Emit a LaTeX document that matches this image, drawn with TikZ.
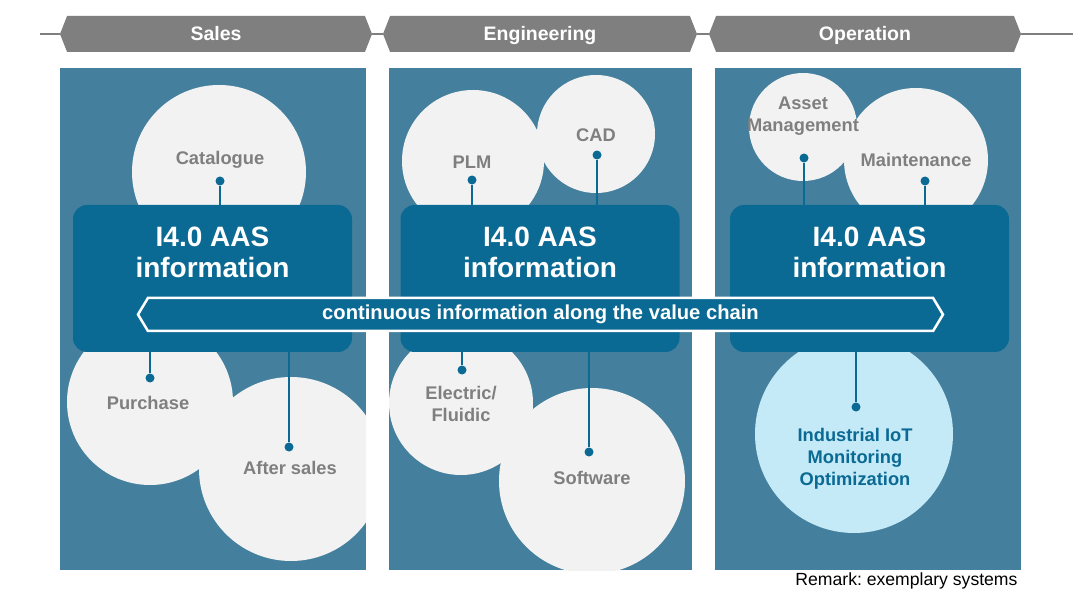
\documentclass[tikz,border=0pt]{standalone}
\usepackage{fontspec}
\setmainfont{Liberation Sans}
\frenchspacing
\usetikzlibrary{arrows.meta,positioning,calc,shapes.symbols}
\definecolor{aasdark}{HTML}{0B6A94}
\definecolor{aaspanel}{HTML}{44809E}
\definecolor{aasgray}{HTML}{7F7F7F}
\definecolor{aaslight}{HTML}{F2F2F2}
\definecolor{aasiot}{HTML}{C4EAF8}
\tikzset{
  phase/.style={signal, signal to=west and east, signal pointer angle=137,
    fill=aasgray, text=white, font=\bfseries\fontsize{19.5}{22}\selectfont,
    minimum height=36pt, inner sep=0pt, text height=18pt, text depth=4pt},
  sys/.style={circle, fill=aaslight, inner sep=0pt},
  syslabel/.style={text=aasgray, font=\bfseries\fontsize{18.3}{22}\selectfont, align=center},
  aasbox/.style={fill=aasdark, rounded corners=14pt, minimum width=279pt,
    minimum height=147pt, inner sep=0pt},
  aastext/.style={text=white, font=\bfseries\fontsize{28}{31}\selectfont, align=center},
  chain/.style={signal, signal to=west and east, signal pointer angle=118,
    fill=aasdark, draw=white, line width=2.5pt, text=white,
    font=\bfseries\fontsize{20.2}{22}\selectfont, minimum width=805pt,
    minimum height=33pt, inner sep=0pt},
  link/.style={aasdark, line width=2pt},
  sysdot/.style={circle, fill=aasdark, inner sep=0pt, minimum size=9pt},
}

\begin{document}
\begin{tikzpicture}[x=1pt, y=-1pt]
  \fill[white] (0,0) rectangle (1080,604);
  \useasboundingbox (0,0) rectangle (1080,604);

  \coordinate (lineL) at (40,34);
  \coordinate (lineR) at (1073,34);
  \foreach \n/\x/\w/\t in {sales/216/312/Sales, eng/540/314/Engineering, op/865/312/Operation}
    \node[phase, minimum width=\w] (\n) at (\x,34) {\t};
  \draw[aasgray, line width=1.5pt] (lineL) -- (sales.west) (sales.east) -- (eng.west)
    (eng.east) -- (op.west) (op.east) -- (lineR);

  \foreach \x/\X in {60/366, 389/692, 715/1021}
    \fill[aaspanel] (\x,68) rectangle (\X,570);

  \begin{scope}
    \clip (60,68) rectangle (366,570);
    \foreach \n/\cx/\cy/\r in {cat/219/172/87, pur/150/402/83, aft/291/469/92}
      \node[sys, minimum size=2*\r] (\n) at (\cx,\cy) {};
  \end{scope}
  \begin{scope}
    \clip (389,68) rectangle (692,570);
    \foreach \n/\cx/\cy/\r in {plm/473/161/71, cad/596/134/59, ele/461/403/72, sw/592/481/93}
      \node[sys, minimum size=2*\r] (\n) at (\cx,\cy) {};
  \end{scope}
  \begin{scope}
    \clip (715,68) rectangle (1021,570);
    \foreach \n/\cx/\cy/\r in {ast/803/127/54, mnt/916/160/72}
      \node[sys, minimum size=2*\r] (\n) at (\cx,\cy) {};
    \node[sys, fill=aasiot, minimum size=198] (iot) at (854,434) {};
  \end{scope}

  \foreach \b/\x in {sbox/212.5, ebox/540, obox/869.5} {
    \node[aasbox] (\b) at (\x,278.5) {};
    \node[aastext] (t\b) at ([yshift=26pt]\b.center) {I4.0 AAS\\information};
  }
  \node[chain] (band) at (540.5,314.5) {continuous information along the value chain};

  \foreach \n/\dx/\dy/\b/\s in {cat/220/181/sbox/north, pur/150/378/sbox/south,
      aft/289/447/sbox/south, plm/472/180/ebox/north, cad/597/155/ebox/north,
      ele/462/370/ebox/south, sw/589/452/ebox/south, ast/804/158/obox/north,
      mnt/925/181/obox/north, iot/856/407/obox/south} {
    \node[sysdot] (d\n) at (\dx,\dy) {};
    \draw[link] (d\n) -- (d\n |- \b.\s);
  }

  \foreach \n/\lx/\ly/\t in {cat/220/160/Catalogue, pur/148/403/Purchase,
      aft/290/468/After sales, plm/472/162/PLM, cad/596/135/CAD,
      ele/461/404/{Electric/\\Fluidic}, sw/592/478/Software,
      ast/803/116/{Asset\\Management}, mnt/916/160/Maintenance}
    \node[syslabel] (l\n) at (\lx,\ly) {\t};
  \node[syslabel, text=aasdark] (liot) at (855,459) {Industrial IoT\\Monitoring\\Optimization};

  \node[anchor=east, font=\fontsize{17.6}{20}\selectfont] (remark) at (1021,581)
    {Remark: exemplary systems};
\end{tikzpicture}
\end{document}
